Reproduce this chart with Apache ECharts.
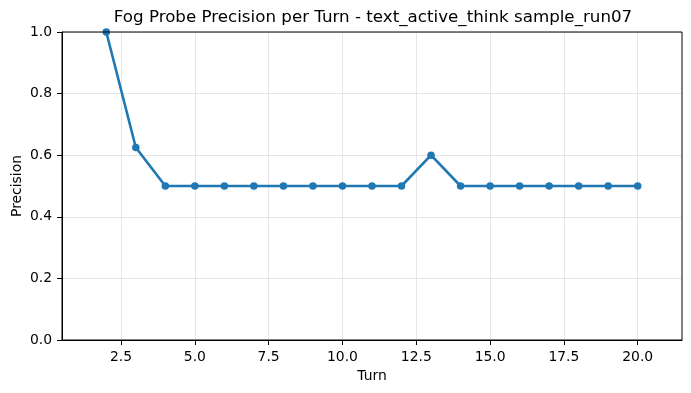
<!DOCTYPE html>
<html>
<head>
<meta charset="utf-8">
<script src="https://cdn.jsdelivr.net/npm/echarts@6/dist/echarts.min.js"></script>
<style>html,body{margin:0;padding:0;background:#fff}#c{width:691px;height:393px}</style>
</head>
<body>
<div id="c"></div>
<script>
const turns = [2, 3, 4, 5, 6, 7, 8, 9, 10, 11, 12, 13, 14, 15, 16, 17, 18, 19, 20];
const precision = [1.0, 0.625, 0.5, 0.5, 0.5, 0.5, 0.5, 0.5, 0.5, 0.5, 0.5, 0.6, 0.5, 0.5, 0.5, 0.5, 0.5, 0.5, 0.5];
const xTicks = [2.5, 5.0, 7.5, 10.0, 12.5, 15.0, 17.5, 20.0];
const yTicks = [0, 0.2, 0.4, 0.6, 0.8, 1.0];
const titleText = 'Fog Probe Precision per Turn - text_active_think sample_run07';

const font = 'DejaVu Sans';
const chart = echarts.init(document.getElementById('c'), null, {renderer: 'canvas'});
chart.setOption({
  animation: false,
  backgroundColor: '#ffffff',
  title: {
    text: titleText,
    left: 368, top: 4, textAlign: 'center',
    textStyle: {fontFamily: font, fontSize: 16.7, fontWeight: 'normal', color: '#000'}
  },
  grid: {left: 62, right: 9, top: 32, bottom: 53, containLabel: false, outerBoundsMode: 'none'},
  xAxis: {
    type: 'value', min: 0.5, max: 21.5,
    name: 'Turn', nameLocation: 'middle', nameGap: 29, nameMoveOverlap: false,
    nameTextStyle: {fontFamily: font, fontSize: 13.9, color: '#000'},
    axisLine: {show: true, onZero: false, lineStyle: {color: '#000', width: 1}},
    axisTick: {show: true, length: 5, lineStyle: {color: '#000'}, customValues: xTicks},
    axisLabel: {fontFamily: font, fontSize: 13.9, color: '#000', margin: 10,
      customValues: xTicks, formatter: v => v.toFixed(1)},
    splitLine: {show: true, lineStyle: {color: '#e6e6e6', width: 1}}
  },
  yAxis: {
    type: 'value', min: 0, max: 1, interval: 0.2,
    name: 'Precision', nameLocation: 'middle', nameGap: 38, nameRotate: 90, nameMoveOverlap: false,
    nameTextStyle: {fontFamily: font, fontSize: 13.9, color: '#000'},
    axisLine: {show: true, lineStyle: {color: '#000', width: 1}},
    axisTick: {show: true, length: 5, lineStyle: {color: '#000'}},
    axisLabel: {fontFamily: font, fontSize: 13.9, color: '#000', margin: 10,
      formatter: v => v.toFixed(1)},
    splitLine: {show: true, lineStyle: {color: '#e6e6e6', width: 1}}
  },
  graphic: [{
    type: 'rect', shape: {x: 62, y: 32, width: 620, height: 308},
    style: {fill: 'none', stroke: '#000', lineWidth: 1}, silent: true, z: 10
  }],
  series: [{
    type: 'line',
    data: turns.map((t, i) => [t, precision[i]]),
    color: '#1f77b4',
    lineStyle: {width: 2.6, color: '#1f77b4'},
    symbol: 'circle', symbolSize: 7.5,
    showSymbol: true,
    itemStyle: {color: '#1f77b4'},
    clip: false
  }]
});
</script>
</body>
</html>
